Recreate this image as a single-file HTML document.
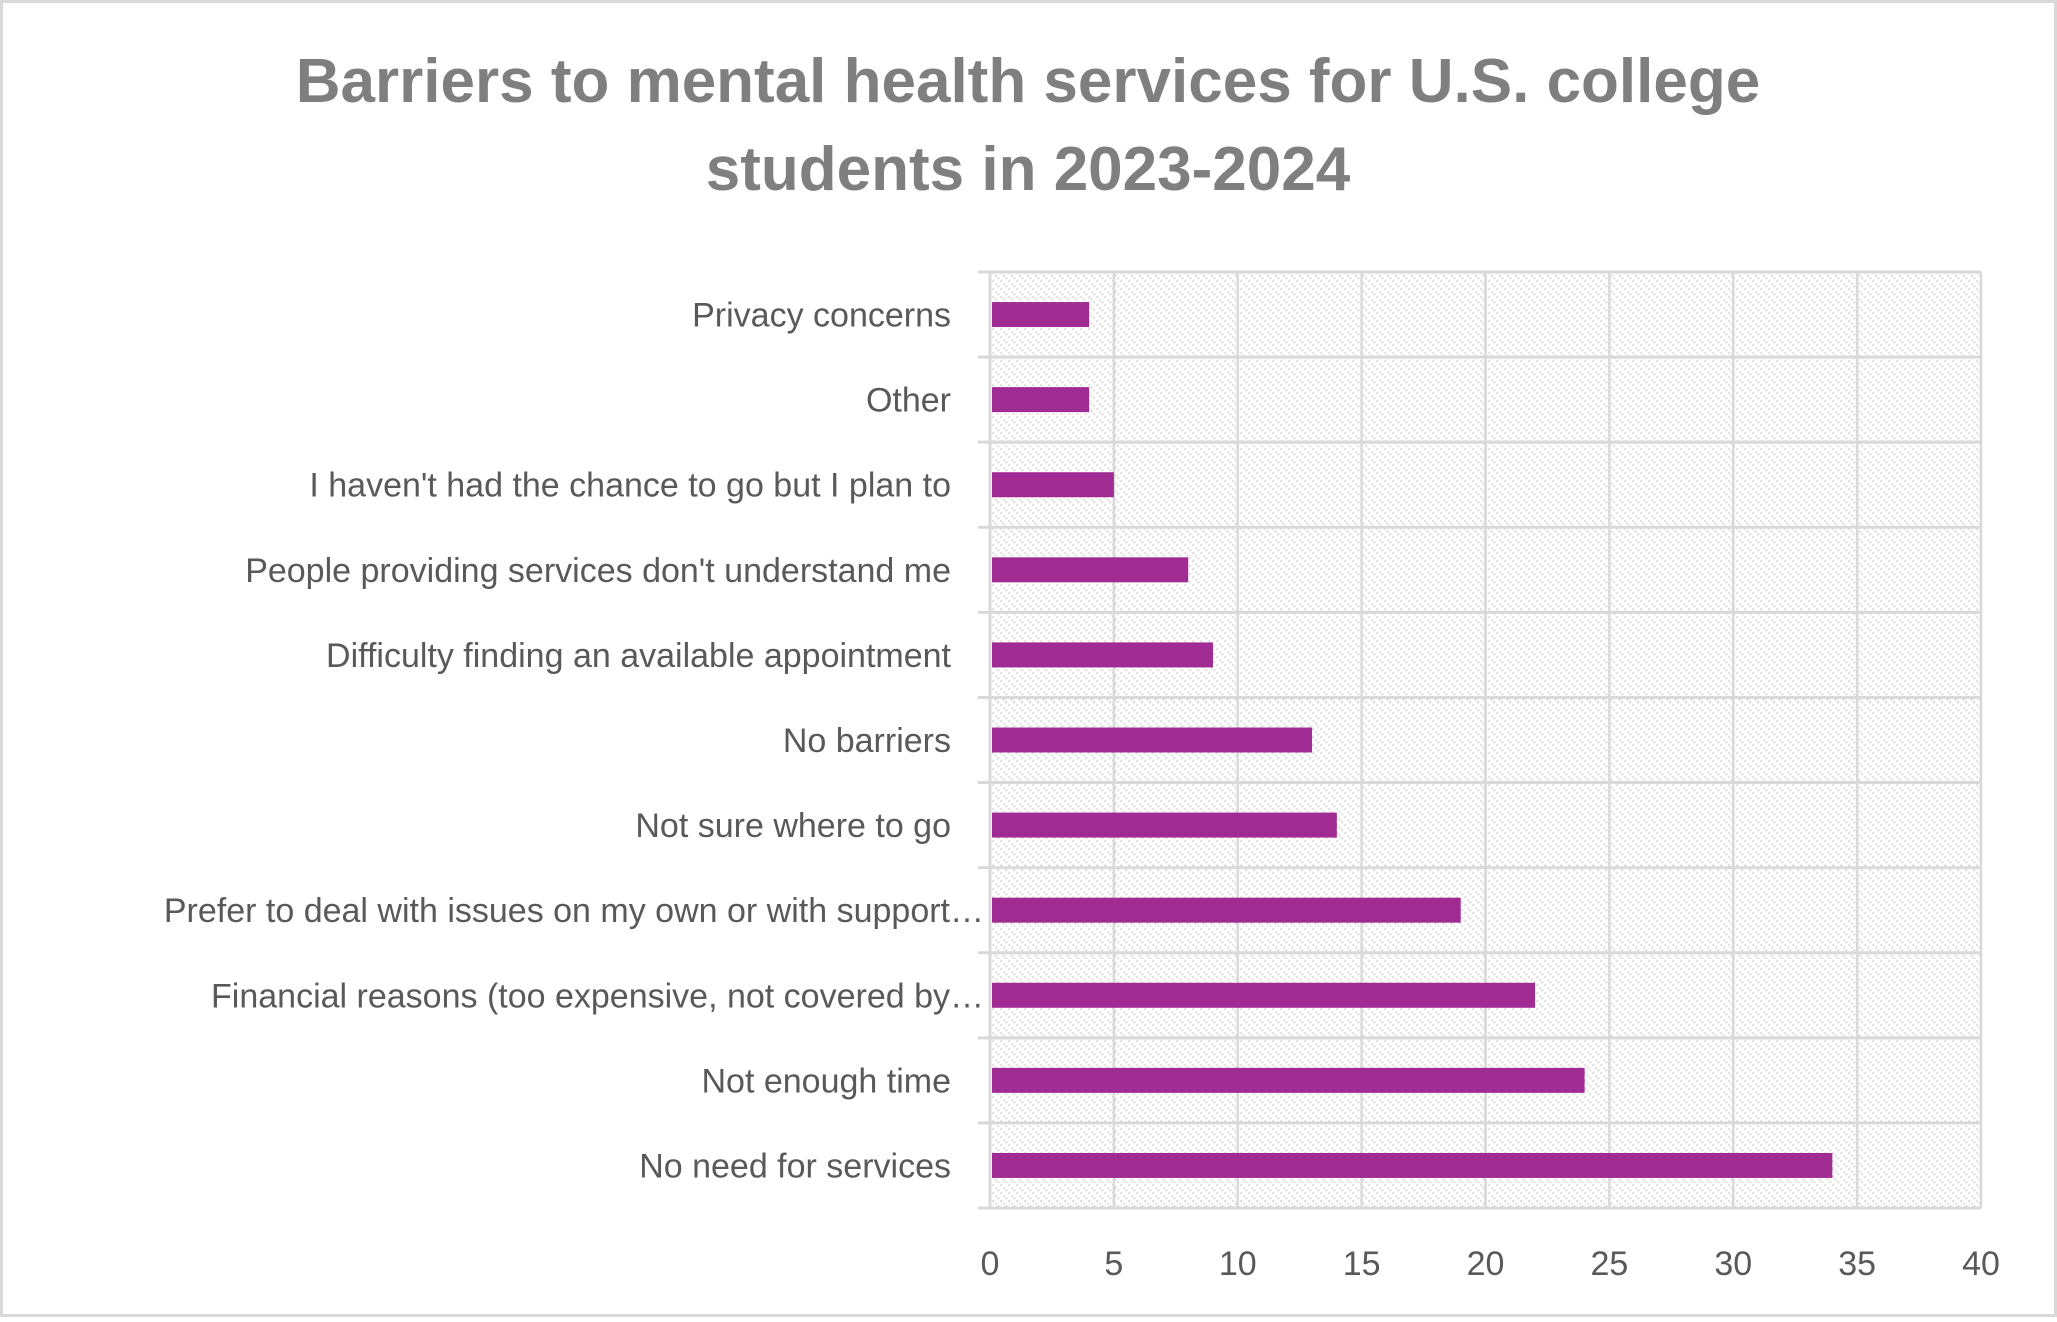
<!DOCTYPE html>
<html><head><meta charset="utf-8"><style>
html,body{margin:0;padding:0;background:#fff}
svg text{font-family:"Liberation Sans",Arial,sans-serif}
</style></head><body>
<svg width="2057" height="1317" viewBox="0 0 2057 1317" xmlns="http://www.w3.org/2000/svg">
<defs>
<pattern id="hatch" patternUnits="userSpaceOnUse" width="8" height="8">
<rect width="8" height="8" fill="#fff"/>
<path d="M-2,-2 L10,10 M-2,6 L2,10 M6,-2 L10,2" stroke="#d4d4d4" stroke-width="1.6" stroke-dasharray="2,1.5"/>
</pattern>
</defs>
<rect x="1.5" y="1.5" width="2054" height="1314" fill="#fff" stroke="#d9d9d9" stroke-width="3"/>
<text x="1028" y="102" text-anchor="middle" font-size="62" font-weight="bold" fill="#7f7f7f">Barriers to mental health services for U.S. college</text>
<text x="1028" y="190" text-anchor="middle" font-size="62" font-weight="bold" fill="#7f7f7f">students in 2023-2024</text>
<rect x="990" y="272" width="991" height="936" fill="url(#hatch)"/>
<g id="grid"></g><g id="bars"></g><g id="labels"></g><g id="ticks"></g>
</svg>
<script>
const categories=["Privacy concerns","Other","I haven't had the chance to go but I plan to","People providing services don't understand me","Difficulty finding an available appointment","No barriers","Not sure where to go","Prefer to deal with issues on my own or with support\u2026","Financial reasons (too expensive, not covered by\u2026","Not enough time","No need for services"];
const values=[4,4,5,8,9,13,14,19,22,24,34];
const tickLabels=[0,5,10,15,20,25,30,35,40];
const NS="http://www.w3.org/2000/svg";
const L=990,R=1981,T=272,B=1208,MAX=40;
const x=v=>L+(v/MAX)*(R-L);
const rowH=(B-T)/categories.length;
const y=i=>T+rowH*i;
function mk(tag,attrs,parent,txt){const e=document.createElementNS(NS,tag);for(const k in attrs)e.setAttribute(k,attrs[k]);if(txt!==undefined)e.textContent=txt;document.getElementById(parent).appendChild(e);return e;}
tickLabels.forEach(t=>{
 const g=mk('line',{x1:x(t),x2:x(t),y1:T,y2:B,stroke:'#d9d9d9','stroke-width':t===0?3:2.5},'grid');
 
 
 const tl=mk('text',{x:x(t),y:1275,'text-anchor':'middle','font-size':34,fill:'#595959'},'ticks',String(t));
 
 
});
for(let i=0;i<=categories.length;i++){
 const g=mk('line',{x1:978,x2:R,y1:y(i),y2:y(i),stroke:'#d9d9d9','stroke-width':3},'grid');
 
 
}
categories.forEach((c,i)=>{
 const cy=y(i)+rowH/2;
 const b=mk('rect',{x:x(0)+2,y:cy-12.5,width:x(values[i])-x(0)-2,height:25,fill:'#a02b93'},'bars');
 
 
 const trunc=c.endsWith('\u2026');
 const t=mk('text',{x:trunc?984:951,y:cy+12,'text-anchor':'end','font-size':34,fill:'#595959'},'labels',c);
 
 
});
</script>
</body></html>
